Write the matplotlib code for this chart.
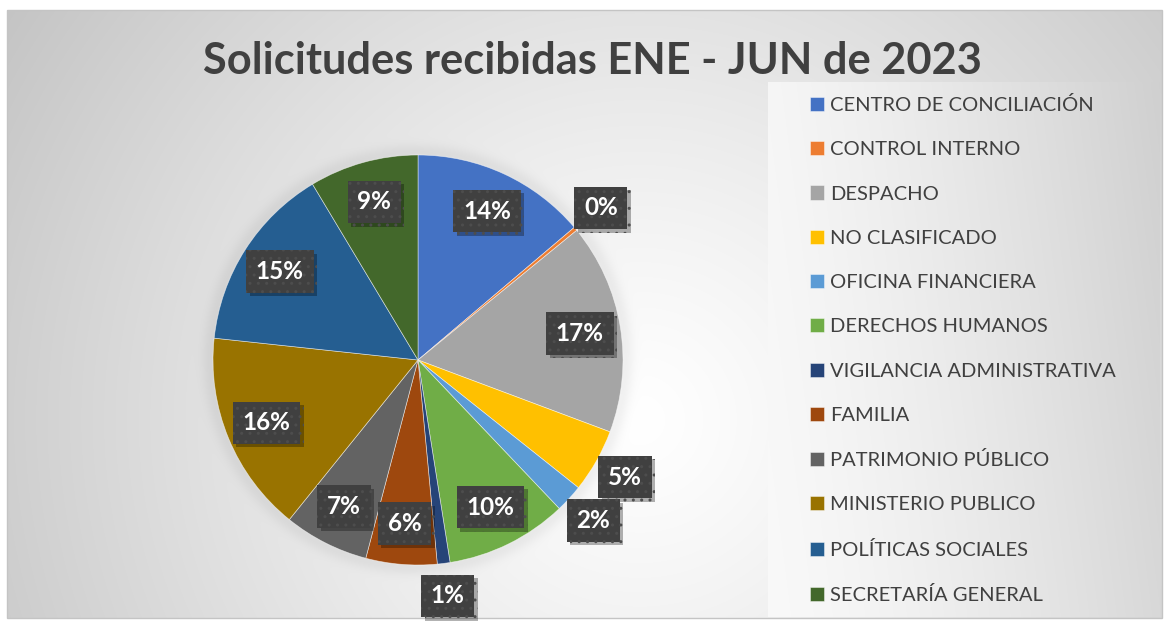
import numpy as np
import matplotlib
matplotlib.use("Agg")
import matplotlib.pyplot as plt
import matplotlib.patheffects as pe
from matplotlib.patches import Rectangle

# Requests received per area, January - June 2023 (share of total, %)
categories = ["CENTRO DE CONCILIACIÓN", "CONTROL INTERNO", "DESPACHO", "NO CLASIFICADO",
              "OFICINA FINANCIERA", "DERECHOS HUMANOS", "VIGILANCIA ADMINISTRATIVA",
              "FAMILIA", "PATRIMONIO PÚBLICO", "MINISTERIO PUBLICO", "POLÍTICAS SOCIALES",
              "SECRETARÍA GENERAL"]
shares = [13.8, 0.3, 16.6, 5.0, 2.2, 9.6, 1.0, 5.6, 6.7, 15.9, 14.7, 8.6]
colors = ["#4472C4", "#ED7D31", "#A5A5A5", "#FFC000", "#5B9BD5", "#70AD47", "#264478",
          "#9E480E", "#636363", "#997300", "#255E91", "#43682B"]
title = "Solicitudes recibidas ENE - JUN de 2023"

FONT = "Lato"
TXT = "#404040"
W, H = 1166, 622

fig = plt.figure(figsize=(W / 100, H / 100), dpi=100)
fig.patch.set_facecolor("white")

# ---- background panel (pixel coordinates) ----
bg = fig.add_axes([0, 0, 1, 1], zorder=0)
bg.axis("off")

x0, x1, y0, y1 = 7, 1162, 10, 618
X, Y = np.meshgrid(np.arange(x0, x1) + 0.5, np.arange(y0, y1) + 0.5)
d = np.hypot(X - 640, Y - 420) / 780
v = 1.0 - 0.24 * np.clip(d, 0, 1) ** 1.2
pr = np.hypot(X - 418, Y - 360)
v -= 0.05 * np.exp(-((pr - 207) / 9) ** 2) * (pr > 203)
bg.imshow(np.dstack([v, v, v]), extent=(x0, x1, y1, y0), aspect="auto",
          interpolation="bilinear", zorder=0)
bg.add_patch(Rectangle((x0, y0), x1 - x0, y1 - y0, fill=False,
                       edgecolor="#c4c4c4", lw=1, zorder=1))

# legend panel
lx0, lx1, ly0, ly1 = 768, 1160, 82, 617
LX, LY = np.meshgrid(np.arange(lx0, lx1) + 0.5, np.arange(ly0, ly1) + 0.5)
t = (LX - lx0) / (lx1 - lx0) * 0.85 + (1 - (LY - ly0) / (ly1 - ly0)) * 0.15
lv = 0.975 - 0.16 * np.clip(t, 0, 1) ** 1.4
bg.imshow(np.dstack([lv, lv, lv]), extent=(lx0, lx1, ly1, ly0), aspect="auto",
          interpolation="bilinear", zorder=0.5)
bg.set_xlim(0, W)
bg.set_ylim(H, 0)

# ---- pie ----
cx, cy, R = 418, 360, 205
ax = fig.add_axes([(cx - R) / W, (H - cy - R) / H, 2 * R / W, 2 * R / H], zorder=2)
ax.patch.set_alpha(0)
wedges, _ = ax.pie(shares, colors=colors, startangle=90, counterclock=False,
                   wedgeprops=dict(edgecolor=(1, 1, 1, 0.6), linewidth=0.5))
ax.set_xlim(-1, 1)
ax.set_ylim(-1, 1)

plt.rcParams["hatch.color"] = "#4d4d4d"
plt.rcParams["hatch.linewidth"] = 1.0
total = sum(shares)
for w, s in zip(wedges, shares):
    pct = 100 * s / total
    mid = np.deg2rad((w.theta1 + w.theta2) / 2)
    r = 0.8 if pct >= 5.3 else 1.16
    txt = ax.text(r * np.cos(mid), r * np.sin(mid), f"{pct:.0f}%", ha="center",
                  va="center", fontsize=17.5, fontweight="bold", family=FONT,
                  color="white", clip_on=False, zorder=5,
                  bbox=dict(boxstyle="square,pad=0.4", facecolor="#404040",
                            edgecolor="#4d4d4d", linewidth=0, hatch=".."))
    txt.get_bbox_patch().set_path_effects(
        [pe.SimplePatchShadow(offset=(2.5, -2.5), shadow_rgbFace="black", alpha=0.3),
         pe.Normal()])

# ---- title ----
fig.text(592 / W, 1 - 61 / H, title, ha="center", va="center", fontsize=31.2,
         fontweight="bold", family=FONT, color=TXT)

# ---- legend ----
leg = fig.legend(wedges, categories, loc="upper left",
                 bbox_to_anchor=(810 / W, 1 - 96 / H), frameon=False,
                 prop=dict(family=FONT, size=14.5), labelcolor=TXT,
                 handlelength=0.7, handleheight=0.7, handletextpad=0.3,
                 labelspacing=1.35, borderpad=0, borderaxespad=0)
leg.set_zorder(3)

fig.savefig("out.png", dpi=100)
